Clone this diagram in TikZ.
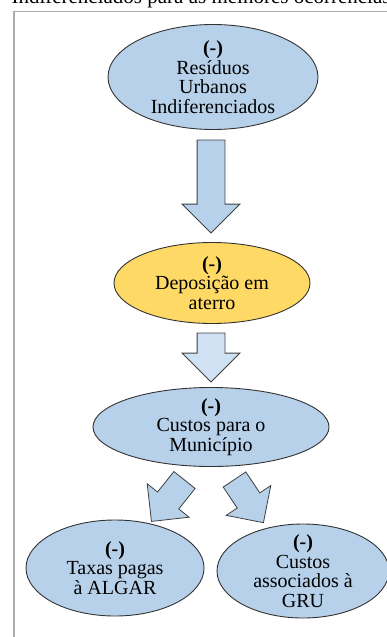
\documentclass[tikz,border=0pt]{standalone}
\usepackage{fontspec}
\setmainfont{Liberation Serif}
\usetikzlibrary{arrows, shapes.geometric, shapes.arrows}
\definecolor{azul}{RGB}{183,209,235}
\definecolor{azulclaro}{RGB}{207,225,242}
\definecolor{amarelo}{RGB}{255,217,102}
\definecolor{moldura}{RGB}{172,172,172}
\tikzset{
  elipse/.style = {ellipse, align=center, inner xsep=-5pt, inner ysep=-10pt,
    draw=black!80, line width=0.9pt, font=\fontsize{20}{19.5}\selectfont},
  elip_a/.style = {elipse, fill=azul},
  elip_y/.style = {elipse, fill=amarelo},
  seta/.style = {single arrow, draw=black!75, line width=0.8pt, fill=azul,
    inner sep=13.5pt, minimum width=0pt, single arrow head extend=15pt,
    outer sep=0pt, anchor=tail}}

\begin{document}
\begin{tikzpicture}[x=1pt, y=1pt]
 \useasboundingbox (0,0) rectangle (387,-637);
 \node [anchor=base west, font=\fontsize{21}{21}\selectfont] (titulo) at (8,-3)
   {Indiferenciados para as melhores ocorrências};
 \draw [moldura, line width=1.6pt] (387,-11.5) -- (14,-11.5) -- (14,-640);

\node [elip_a, minimum width=210, minimum height=105] (res) at (213,-77)
	{\textbf{(-)}\\Resíduos\\Urbanos\\Indiferenciados};
\node [elip_y, minimum width=196, minimum height=81] (dep) at (212,-283)
	{\textbf{(-)}\\Deposição em\\aterro};
\node [elip_a, minimum width=236, minimum height=79] (cus) at (211,-427)
	{\textbf{(-)}\\Custos para o\\Município};
\node [elip_a, minimum width=178, minimum height=96] (tax) at (115,-568)
	{\textbf{(-)}\\Taxas pagas\\à ALGAR};
\node [elip_a, minimum width=172, minimum height=94] (gru) at (303,-571)
	{\textbf{(-)}\\Custos\\associados à\\GRU};

\node [seta, minimum height=93, rotate=-90] (s1) at (211,-140) {};
\node [seta, minimum height=49, rotate=-90, fill=azulclaro] (s2) at (211,-333) {};
\node [seta, minimum height=53, rotate=231.4, inner sep=13.2pt,
	single arrow head extend=13.2pt] (s3) at (184.5,-480) {};
\node [seta, minimum height=52, rotate=-56.2, inner sep=13.2pt,
	single arrow head extend=13.2pt] (s4) at (234.5,-479.5) {};
\end{tikzpicture}
\end{document}
